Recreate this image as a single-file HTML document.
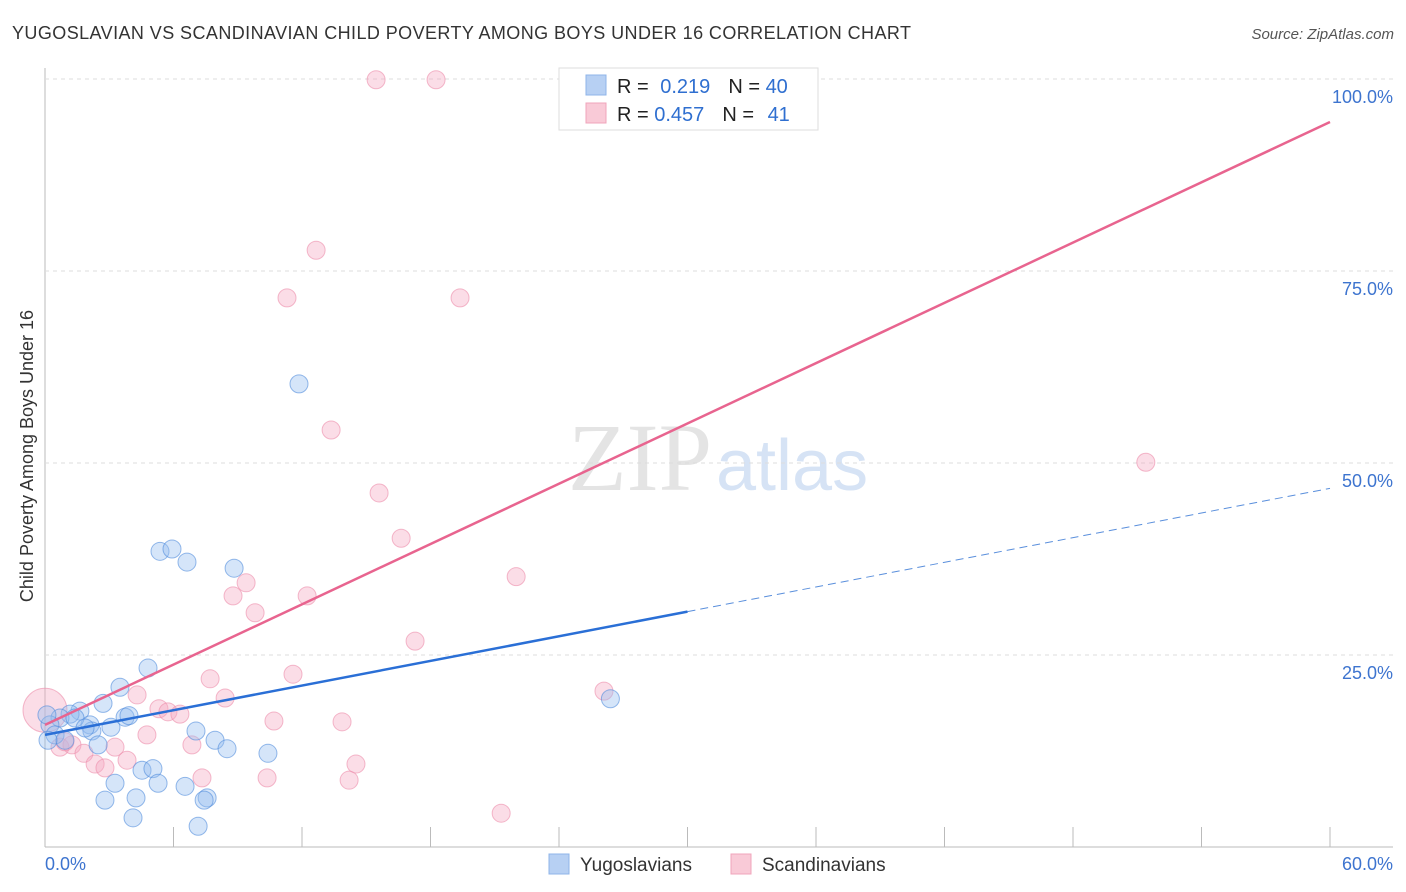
<!DOCTYPE html>
<html><head><meta charset="utf-8"><style>
body{margin:0;background:#fff;font-family:"Liberation Sans",sans-serif}
</style></head><body>
<svg id="chart" width="1406" height="892" xmlns="http://www.w3.org/2000/svg" style="display:block">
<text x="12" y="39" font-size="18" fill="#333" textLength="899" lengthAdjust="spacing">YUGOSLAVIAN VS SCANDINAVIAN CHILD POVERTY AMONG BOYS UNDER 16 CORRELATION CHART</text>
<text x="1394" y="39" font-size="15" fill="#555" font-style="italic" text-anchor="end">Source: ZipAtlas.com</text>
<text x="712" y="490" font-size="96" fill="#e4e4e4" font-family="Liberation Serif,serif" text-anchor="end">ZIP</text>
<text x="716" y="490" font-size="72" fill="#d6e3f5">atlas</text>
<text transform="translate(33,456) rotate(-90)" font-size="18" fill="#333" text-anchor="middle">Child Poverty Among Boys Under 16</text>
<g id="grid"></g><g id="pts"></g><g id="lines"></g>
<g>
<rect x="559" y="68" width="259" height="62" fill="#fff" stroke="#ddd"/>
<rect x="586" y="75" width="20" height="20" fill="#b7d0f3" stroke="#8fb4e8"/>
<rect x="586" y="103" width="20" height="20" fill="#f9cad7" stroke="#f0a4bb"/>
<text x="617" y="93" font-size="20" fill="#222">R = <tspan fill="#2f6fd0" dx="6">0.219</tspan><tspan dx="18">N = </tspan><tspan fill="#2f6fd0">40</tspan></text>
<text x="617" y="121" font-size="20" fill="#222">R = <tspan fill="#2f6fd0">0.457</tspan><tspan dx="18">N = </tspan><tspan fill="#2f6fd0" dx="8">41</tspan></text>
</g>
<g>
<rect x="549" y="854" width="20" height="20" fill="#b7d0f3" stroke="#8fb4e8"/>
<text x="580" y="871" font-size="19" fill="#333">Yugoslavians</text>
<rect x="731" y="854" width="20" height="20" fill="#f9cad7" stroke="#f0a4bb"/>
<text x="762" y="871" font-size="19" fill="#333">Scandinavians</text>
</g>
</svg>
<script>
const blueX=[5.37,5.93,6.63,8.83,11.86,4.81,3.5,2.71,1.63,1.17,0.7,2.1,2.19,3.08,3.74,3.92,0.23,0.47,0.93,2.48,7.05,7.94,8.5,10.41,4.53,5.04,3.27,5.28,6.54,2.8,4.25,7.57,7.43,4.11,7.15,26.4,0.09,1.4,1.87,0.14];
const blueY=[38.5,38.8,37.1,36.3,60.3,23.3,20.8,18.7,17.7,17.3,16.8,15.9,15.1,15.6,16.9,17.1,15.9,14.6,13.9,13.3,15.1,13.9,12.8,12.2,10.0,10.2,8.3,8.3,7.9,6.1,6.4,6.4,6.1,3.8,2.7,19.3,17.2,16.8,15.5,13.9];
const pinkX=[15.46,18.26,12.66,11.3,19.38,13.36,15.6,16.63,22.0,9.39,8.78,9.81,12.24,17.28,7.71,11.58,4.3,8.41,5.32,5.74,6.3,10.69,13.87,4.76,3.27,6.86,0.7,1.26,1.82,2.34,2.8,3.83,7.33,10.37,14.52,14.2,21.3,26.1,51.4,0,0.93];
const pinkY=[99.9,99.9,77.7,71.5,71.5,54.3,46.1,40.2,35.2,34.4,32.7,30.5,32.7,26.8,21.9,22.5,19.8,19.4,18.0,17.6,17.3,16.4,16.3,14.6,13.0,13.3,13.0,13.3,12.2,10.8,10.3,11.3,9.0,9.0,10.8,8.7,4.4,20.3,50.1,17.8,13.7];
const yTicks=[25,50,75,100];
const yTickLabels=["25.0%","50.0%","75.0%","100.0%"];
const xTicks=[0,6,12,18,24,30,36,42,48,54,60];
const blueTrend=[14.6,46.7];
const pinkTrend=[15.9,94.4];
const blueSolidEnd=30;
const NS="http://www.w3.org/2000/svg";
const sx=v=>45+v/60*1285, sy=v=>847-v/100*768;
function mk(tag,attrs,parent){const e=document.createElementNS(NS,tag);for(const k in attrs)e.setAttribute(k,attrs[k]);parent.appendChild(e);return e;}
const grid=document.getElementById('grid'),pts=document.getElementById('pts'),lines=document.getElementById('lines');
let ax=mk('line',{x1:45,y1:68,x2:45,y2:847,stroke:'#bbb'},grid);


let bx=mk('line',{x1:45,y1:847,x2:1393,y2:847,stroke:'#bbb'},grid);


yTicks.forEach((t,i)=>{
 let g=mk('line',{x1:45,y1:sy(t),x2:1393,y2:sy(t),stroke:'#ddd','stroke-dasharray':'4,4'},grid);
 
 
 let tx=mk('text',{x:1393,y:sy(t)+24,'font-size':18,fill:'#3d74cf','text-anchor':'end'},grid);
 tx.textContent=yTickLabels[i];
 
 
});
xTicks.forEach(t=>{
 let l=mk('line',{x1:sx(t),y1:827,x2:sx(t),y2:847,stroke:'#bbb'},grid);
 
 
});
let x0=mk('text',{x:45,y:870,'font-size':18,fill:'#3d74cf'},grid);x0.textContent='0.0%';


let x1=mk('text',{x:1393,y:870,'font-size':18,fill:'#3d74cf','text-anchor':'end'},grid);x1.textContent='60.0%';


pinkX.forEach((x,i)=>{
 let c=mk('circle',{cx:sx(x),cy:sy(pinkY[i]),r:(i===39?22:9),fill:'rgba(246,170,195,0.4)',stroke:'rgba(236,140,170,0.6)','stroke-width':1},pts);
 
 
});
blueX.forEach((x,i)=>{
 let c=mk('circle',{cx:sx(x),cy:sy(blueY[i]),r:9,fill:'rgba(150,190,240,0.4)',stroke:'rgba(80,140,220,0.6)','stroke-width':1},pts);
 
 
});
const bAt=x=>blueTrend[0]+(blueTrend[1]-blueTrend[0])*x/60;
let pl=mk('line',{x1:sx(0),y1:sy(pinkTrend[0]),x2:sx(60),y2:sy(pinkTrend[1]),stroke:'#e8648f','stroke-width':2.5},lines);


let bl=mk('line',{x1:sx(0),y1:sy(bAt(0)),x2:sx(blueSolidEnd),y2:sy(bAt(blueSolidEnd)),stroke:'#2a6fd6','stroke-width':2.5},lines);


let bd=mk('line',{x1:sx(blueSolidEnd),y1:sy(bAt(blueSolidEnd)),x2:sx(60),y2:sy(bAt(60)),stroke:'#5a8fdc','stroke-width':1,'stroke-dasharray':'8,5'},lines);


</script>
</body></html>
